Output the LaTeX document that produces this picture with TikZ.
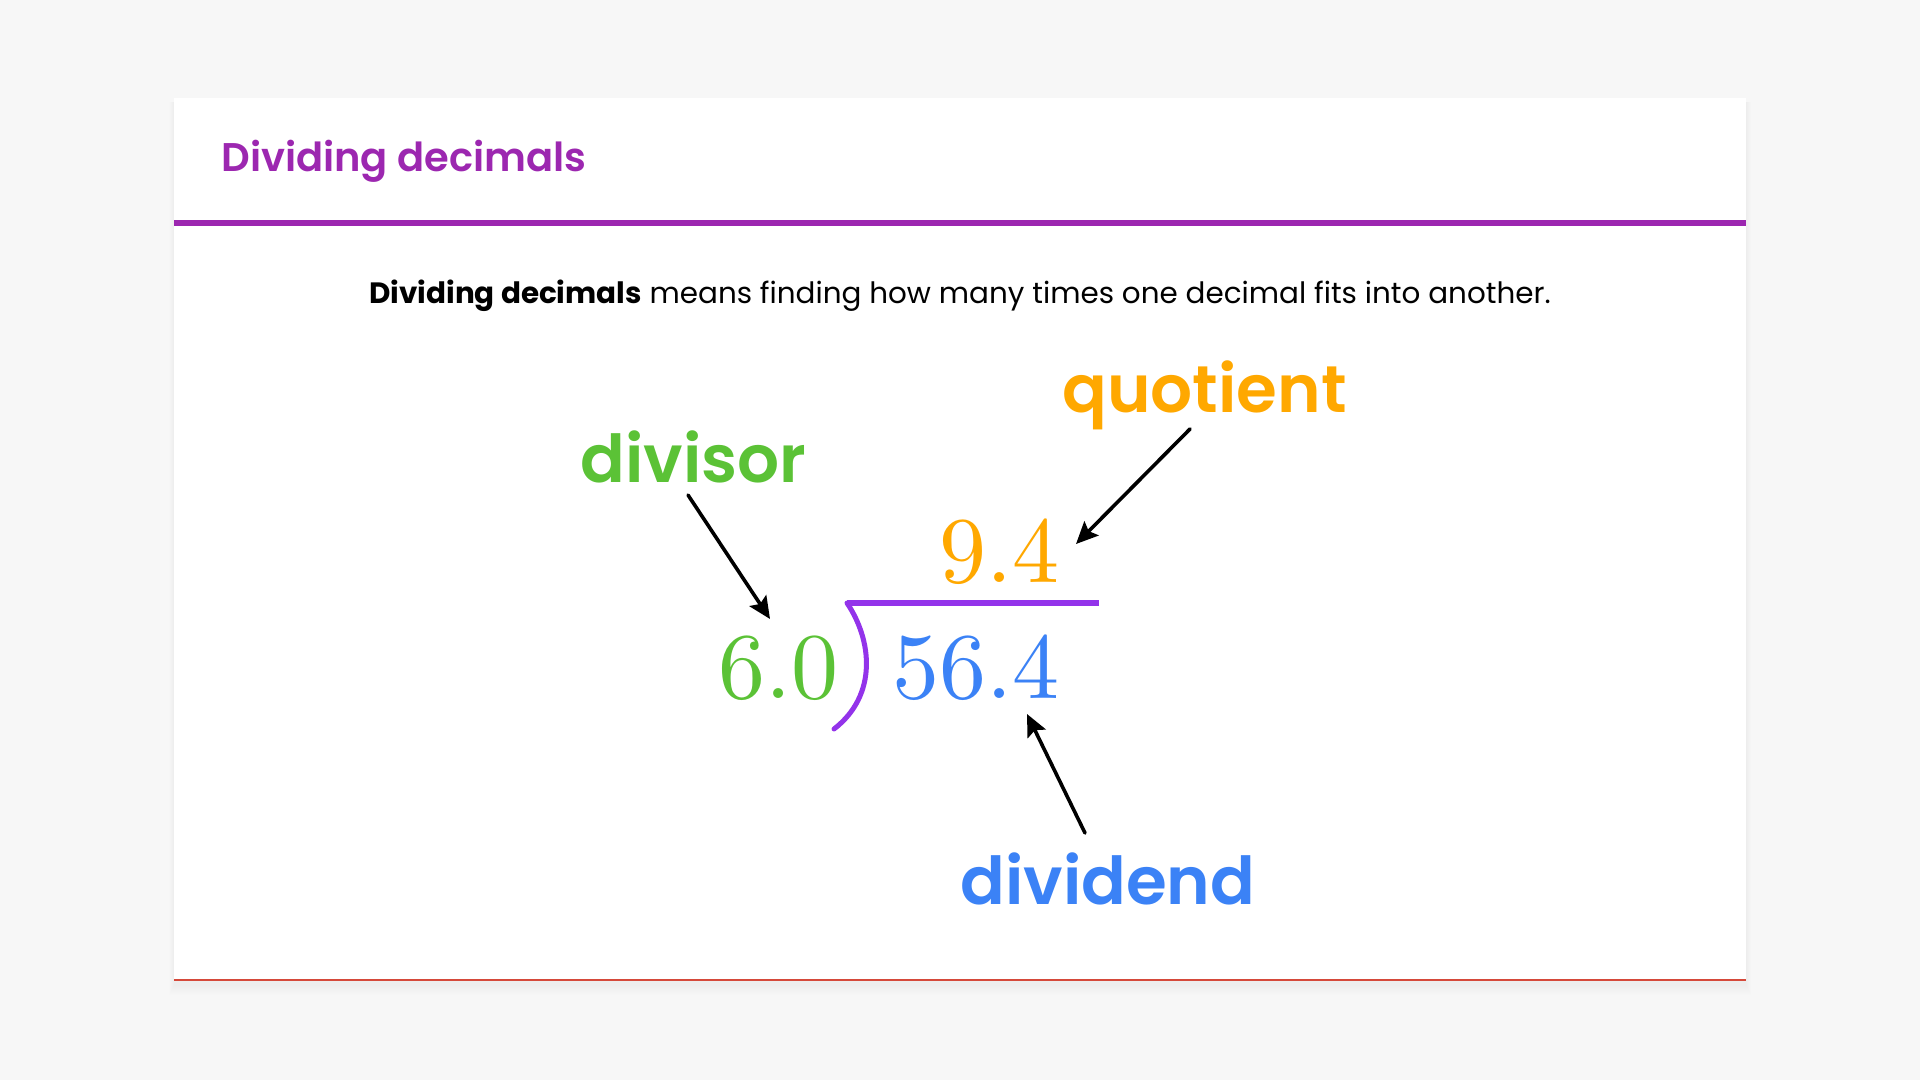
\documentclass[tikz,border=0pt]{standalone}
\usepackage{fontspec}
\newfontfamily\poppins{Poppins}
\newfontfamily\poppinssb{Poppins SemiBold}
\font\numfont=cmr10 at 47pt
\usetikzlibrary{arrows.meta}
\definecolor{pagebg}{HTML}{F7F7F7}
\definecolor{titlepurple}{HTML}{9C27B0}
\definecolor{barpurple}{HTML}{9333EA}
\definecolor{divgreen}{HTML}{5BC236}
\definecolor{quoorange}{HTML}{FFA800}
\definecolor{divblue}{HTML}{3B82F6}
\definecolor{edgered}{HTML}{D5493A}
\tikzset{
  label/.style={anchor=base west, inner sep=0pt, font=\poppinssb\fontsize{33}{38}\selectfont},
  numeral/.style={anchor=base west, inner sep=0pt, font=\numfont},
  pointer/.style={draw=black, line width=1.8pt, -{Stealth[length=11pt,width=10pt,inset=2pt]}}
}
\begin{document}
\begin{tikzpicture}[line join=round, line cap=round, x=0.5pt, y=-0.5pt]
\def \cardl{174};
\def \cardr{1746};
\def \cardt{98};
\def \cardb{981};
\fill[pagebg] (0,0) rectangle (1920,1080);
\useasboundingbox (0,0) rectangle (1920,1080);
\foreach \s in {1,...,10}{\fill[black, opacity=0.004] (\cardl-\s/2,\cardt+4) rectangle (\cardr+\s/2,\cardb+\s+4);}
\fill[white] (\cardl,\cardt) rectangle (\cardr,\cardb);
\fill[titlepurple] (\cardl,220) rectangle (\cardr,226);
\draw[edgered, line width=0.8pt, line cap=butt] (\cardl,980) -- (\cardr,980);

\node[anchor=base west, inner sep=0pt, text=titlepurple, font=\poppinssb\fontsize{20}{24}\selectfont] (title) at (221,172) {Dividing decimals};
\node[anchor=base, inner sep=0pt, font=\poppins\fontsize{14.7}{17}\selectfont] (intro) at (960,304) {{\bfseries Dividing decimals} means finding how many times one decimal fits into another.};

\node[numeral, text=quoorange] (quot) at (939,582) {9.4};
\node[numeral, text=divgreen] (dvsr) at (718,698) {6.0};
\node[numeral, text=divblue] (dvnd) at (892,698) {56.4};
\draw[barpurple, line width=3pt, line cap=butt] (847,603) -- (1099,603);
\draw[barpurple, line width=2.5pt] (847,603) .. controls (872,640) and (878,695) .. (834,729);

\node[label, text=divgreen] (divisor) at (580,482) {divisor};
\node[label, text=quoorange] (quotient) at (1062,412) {quotient};
\node[label, text=divblue] (dividend) at (960,904) {dividend};

\coordinate (divisor-tail) at (688,495);
\coordinate (divisor-tip) at (770,619);
\coordinate (quotient-tail) at (1190,429);
\coordinate (quotient-tip) at (1076,544);
\coordinate (dividend-tail) at (1085,833);
\coordinate (dividend-tip) at (1027,714);
\draw[pointer] (divisor-tail) -- (divisor-tip);
\draw[pointer] (quotient-tail) -- (quotient-tip);
\draw[pointer] (dividend-tail) -- (dividend-tip);
\end{tikzpicture}
\end{document}
